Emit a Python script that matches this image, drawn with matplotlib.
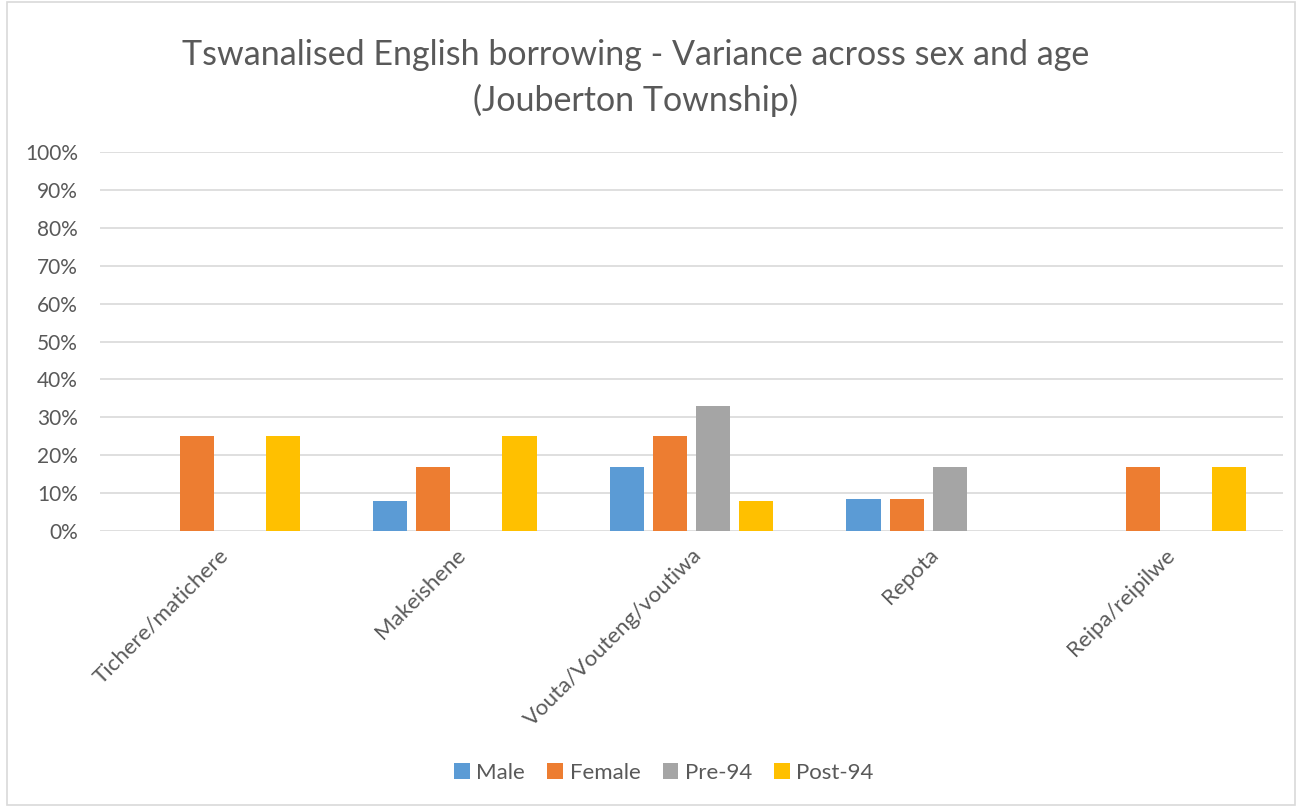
import numpy as np
import matplotlib.pyplot as plt
from matplotlib.patches import Rectangle
from matplotlib.ticker import PercentFormatter

plt.rcParams['font.family'] = ['Lato', 'DejaVu Sans']

categories = ['Tichere/matichere', 'Makeishene', 'Vouta/Vouteng/voutiwa', 'Repota', 'Reipa/reipilwe']
male = [0, 8, 17, 8.5, 0]
female = [25, 17, 25, 8.5, 17]
pre94 = [0, 0, 33, 17, 0]
post94 = [25, 25, 8, 0, 17]

series = [('Male', male, '#5b9bd5'), ('Female', female, '#ed7d31'),
          ('Pre-94', pre94, '#a5a5a5'), ('Post-94', post94, '#ffc000')]

fig = plt.figure(figsize=(13.02, 8.07), dpi=100)
ax = fig.add_axes([100/1302, 1-531/807, 1183/1302, 379/807])

x = np.arange(len(categories))
w = 0.144
step = 0.182
for i, (name, vals, col) in enumerate(series):
    ax.bar(x + (i - 1.5) * step, vals, w, color=col, label=name, zorder=3)

ax.set_xlim(-0.5, len(categories) - 0.5)
ax.set_ylim(0, 100)
ax.set_yticks(range(0, 101, 10))
ax.yaxis.set_major_formatter(PercentFormatter(decimals=0))
ax.grid(axis='y', color='#d9d9d9', lw=1.2, zorder=0)
for s in ax.spines.values():
    s.set_visible(False)
ax.tick_params(axis='both', length=0, colors='#595959')
ax.tick_params(axis='y', pad=16, labelsize=15)
ax.tick_params(axis='x', pad=10, labelsize=16)
ax.set_xticks(x)
ax.set_xticklabels(categories, rotation=45, ha='right', rotation_mode='anchor')

fig.text(0.488, 1-55/807, 'Tswanalised English borrowing - Variance across sex and age',
         ha='center', va='center', fontsize=24.5, color='#595959')
fig.text(0.488, 1-100/807, '(Jouberton Township)',
         ha='center', va='center', fontsize=24.5, color='#595959')

fig.legend(loc='center', bbox_to_anchor=(664/1302, 1-773/807), ncol=4, frameon=False,
           fontsize=16, labelcolor='#595959', handlelength=0.7, handleheight=0.7,
           handletextpad=0.3, columnspacing=1.0)

fig.patches.append(Rectangle((7/1302, 0.002), 1-14/1302, 0.995, transform=fig.transFigure,
                             fill=False, edgecolor='#d9d9d9', lw=1.2))

fig.savefig('out.png', dpi=100)
